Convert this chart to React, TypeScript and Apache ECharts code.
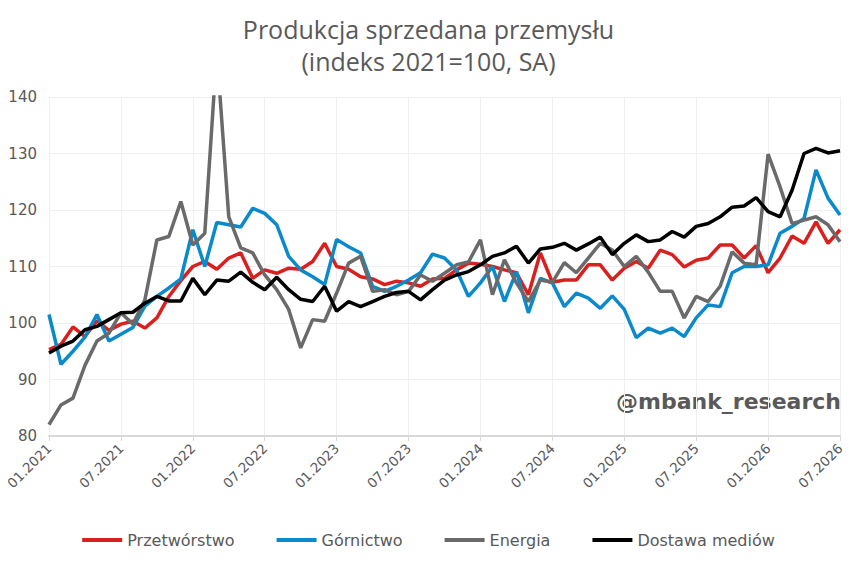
import * as echarts from "echarts";
import { useEffect, useRef } from "react";

const months: string[] = [];
for (let y = 2021; y <= 2026; y++) {
  for (let m = 1; m <= 12; m++) {
    if (y === 2026 && m > 7) break;
    months.push(`${String(m).padStart(2, "0")}.${y}`);
  }
}

const przetworstwo = [
  95.3, 96.2, 99.3, 97.6, 100.4, 98.7, 99.8, 100.3, 99.1, 100.9, 104.7, 107.5, 110, 110.9, 109.5, 111.5, 112.4,
  107.9, 109.4, 108.8, 109.7, 109.5, 110.9, 114.1, 110, 109.5, 108.2, 107.8, 106.8, 107.4, 107.1, 106.5, 107.8, 107.9, 109.4,
  110.6, 110.4, 110, 109.4, 108.9, 105, 112.4, 107.2, 107.6, 107.6, 110.3, 110.3, 107.6, 109.7,
  110.9, 109.7, 112.9, 112.1, 109.9, 111.1, 111.5, 113.8, 113.8, 111.5, 113.7, 108.9, 111.5, 115.4, 114.1, 117.9, 114.1, 116.5,
];

const gornictwo = [
  101.5, 92.7, 95, 97.5, 101.5, 96.8, 98, 99.2, 103, 104.7, 106.2, 107.8, 116.5, 110, 117.8, 117.4, 117, 120.3,
  119.4, 117.4, 111.8, 109.4, 108.2, 106.8, 114.8, 113.5, 112.4, 106.5, 105.6, 106.5, 107.6, 108.9, 112.2, 111.5, 109.4,
  104.7, 107.1, 110, 103.8, 109.1, 101.8, 107.9, 107.1, 102.9, 105.3, 104.4, 102.6, 104.8, 102.4,
  97.4, 99.1, 98.2, 99.1, 97.6, 100.9, 103.2, 102.9, 108.9, 110, 110, 110.3, 115.9, 117.1, 118.5, 127.1, 122.1, 119.1,
];

const energia = [
  82, 85.5, 86.7, 92.5, 96.8, 98.2, 101.8, 99.8, 104.1, 114.7, 115.3, 121.5, 113.8, 115.9, 148, 118.8, 113.3, 112.4,
  108.5, 105.9, 102.4, 95.6, 100.6, 100.3, 105.3, 110.6, 111.8, 105.6, 105.9, 105, 105.6, 108.5, 107.4, 108.8, 110.3,
  110.8, 114.7, 105, 111.2, 107.1, 103.8, 107.6, 107.2, 110.7, 108.9, 111.5, 114.1, 112.9, 110,
  111.8, 109, 105.6, 105.6, 100.9, 104.7, 103.8, 106.5, 112.6, 110.6, 110.3, 129.9, 124.1, 117.6, 118.2, 118.8, 117.4, 114.4,
];

const dostawa = [
  94.7, 95.9, 96.8, 98.8, 99.4, 100.6, 101.8, 101.9, 103.5, 104.7, 103.9, 103.9, 107.9, 105, 107.6, 107.4, 109, 107.2,
  105.9, 108.1, 105.9, 104.2, 103.8, 106.5, 102.1, 103.8, 102.9, 103.8, 104.7, 105.4, 105.6, 104.1, 105.9, 107.6, 108.5,
  109.1, 110.3, 111.8, 112.4, 113.6, 110.6, 113.1, 113.4, 114.1, 112.9, 114, 115.2, 112.1, 114.1,
  115.6, 114.4, 114.7, 116.2, 115.2, 117.1, 117.6, 118.8, 120.5, 120.7, 122.2, 119.7, 118.8, 123.5, 130, 130.9, 130.1, 130.5,
];

const FONT = "DejaVu Sans";
const TXT = "#595959";

export default function App() {
  const ref = useRef<HTMLDivElement | null>(null);

  useEffect(() => {
    if (!ref.current) return;
    const chart = echarts.init(ref.current, null, { renderer: "svg" });
    const line = (name: string, data: number[], color: string) => ({
      name,
      type: "line",
      data,
      symbol: "none",
      lineStyle: { color, width: 3.5 },
      itemStyle: { color },
    });
    chart.setOption({
      animation: false,
      textStyle: { fontFamily: FONT },
      title: {
        text: "Produkcja sprzedana przemysłu\n(indeks 2021=100, SA)",
        left: "center",
        top: 0,
        textStyle: { fontFamily: "Open Sans", fontWeight: "normal", fontSize: 25, lineHeight: 32, color: TXT },
      },
      grid: { left: 41, right: 9, top: 89, bottom: 121, outerBoundsMode: "none", containLabel: false },
      xAxis: {
        type: "category",
        data: months,
        boundaryGap: false,
        axisLine: { lineStyle: { color: "#d9d9d9", width: 2 } },
        axisTick: { interval: 5, lineStyle: { color: "#d9d9d9" }, length: 5 },
        axisLabel: { interval: 5, rotate: 45, color: TXT, fontSize: 13.5, fontFamily: FONT, margin: 10 },
        splitLine: { show: true, interval: 5, lineStyle: { color: "#f0f0f0" } },
      },
      yAxis: {
        type: "value",
        min: 80,
        max: 140,
        interval: 10,
        axisLabel: { color: TXT, fontSize: 15, fontFamily: FONT, margin: 12 },
        splitLine: { lineStyle: { color: "#f0f0f0" } },
      },
      legend: {
        bottom: 4,
        left: "center",
        itemGap: 42,
        itemWidth: 40,
        itemHeight: 4,
        icon: "rect",
        textStyle: { color: TXT, fontSize: 16, fontFamily: FONT },
      },
      graphic: [
        {
          type: "text",
          right: 8,
          top: 382,
          style: { text: "@mbank_research", fill: TXT, font: `bold 22px "${FONT}"` },
        },
      ],
      series: [
        line("Przetwórstwo", przetworstwo, "#d9201f"),
        line("Górnictwo", gornictwo, "#0a8acb"),
        line("Energia", energia, "#6a6a6a"),
        line("Dostawa mediów", dostawa, "#000000"),
      ],
    });
    return () => chart.dispose();
  }, []);

  return <div ref={ref} style={{ width: 841, height: 549 }} />;
}
